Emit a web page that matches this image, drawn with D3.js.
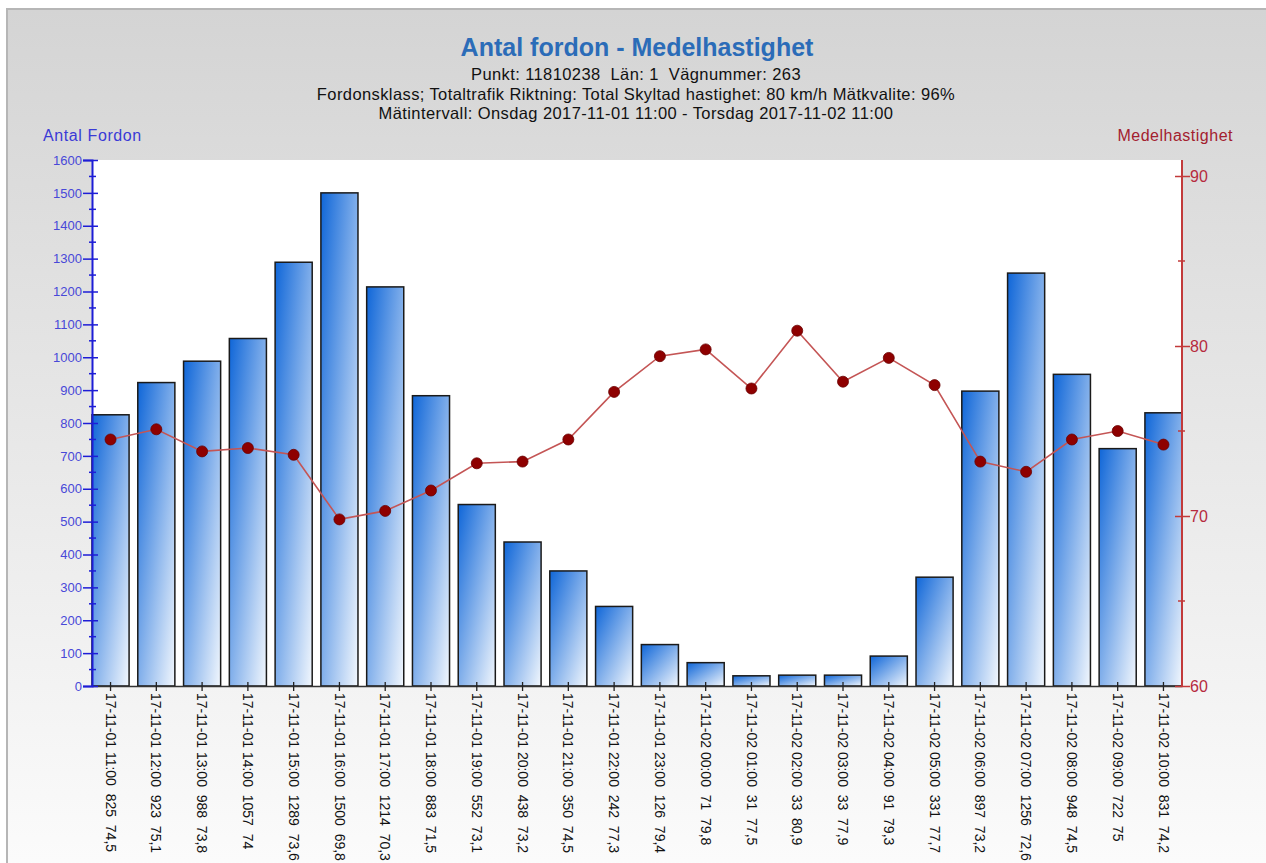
<!DOCTYPE html>
<html>
<head>
<meta charset="utf-8">
<script src="https://d3js.org/d3.v7.min.js"></script>
<style>
  body { margin: 0; background: #fff; overflow: hidden; }
  svg { display: block; font-family: "Liberation Sans", Arial, sans-serif; }
</style>
</head>
<body>
<script>
// --- data ---
var hours = ["17-11-01 11:00","17-11-01 12:00","17-11-01 13:00","17-11-01 14:00","17-11-01 15:00",
  "17-11-01 16:00","17-11-01 17:00","17-11-01 18:00","17-11-01 19:00","17-11-01 20:00",
  "17-11-01 21:00","17-11-01 22:00","17-11-01 23:00","17-11-02 00:00","17-11-02 01:00",
  "17-11-02 02:00","17-11-02 03:00","17-11-02 04:00","17-11-02 05:00","17-11-02 06:00",
  "17-11-02 07:00","17-11-02 08:00","17-11-02 09:00","17-11-02 10:00"];
var antal = [825, 923, 988, 1057, 1289, 1500, 1214, 883, 552, 438, 350, 242, 126, 71, 31, 33, 33, 91, 331, 897, 1256, 948, 722, 831];
var hastighet = [74.5, 75.1, 73.8, 74, 73.6, 69.8, 70.3, 71.5, 73.1, 73.2, 74.5, 77.3, 79.4, 79.8, 77.5, 80.9, 77.9, 79.3, 77.7, 73.2, 72.6, 74.5, 75, 74.2];
var leftTicks = d3.range(0, 1601, 100);
var leftMinor = d3.range(50, 1600, 100);
var rightTicks = [60, 70, 80, 90];
var rightMinor = [65, 75, 85];

var title = "Antal fordon - Medelhastighet";
var subtitles = [
  "Punkt: 11810238  Län: 1  Vägnummer: 263",
  "Fordonsklass; Totaltrafik Riktning: Total Skyltad hastighet: 80 km/h Mätkvalite: 96%",
  "Mätintervall: Onsdag 2017-11-01 11:00 - Torsdag 2017-11-02 11:00"
];

var W = 1266, H = 863;
var plot = {left: 92, right: 1182, top: 160, bottom: 686};

var svg = d3.select("body").append("svg").attr("width", W).attr("height", H);
var defs = svg.append("defs");

var bg = defs.append("linearGradient").attr("id", "bg").attr("x1", 0).attr("y1", 0).attr("x2", 0).attr("y2", 1);
bg.append("stop").attr("offset", "0%").attr("stop-color", "#d4d4d4");
bg.append("stop").attr("offset", "100%").attr("stop-color", "#fcfcfc");

var barGrad = defs.append("linearGradient").attr("id", "bar").attr("x1", 0).attr("y1", 0).attr("x2", 1).attr("y2", 1);
barGrad.append("stop").attr("offset", "0%").attr("stop-color", "#0f66d8");
barGrad.append("stop").attr("offset", "100%").attr("stop-color", "#f2f7fd");

// frame
svg.append("rect").attr("x", 7).attr("y", 9).attr("width", W + 10).attr("height", H + 10)
  .attr("fill", "url(#bg)").attr("stroke", "#b6b6b6").attr("stroke-width", 2);

// plot area
svg.append("rect").attr("x", plot.left).attr("y", plot.top)
  .attr("width", plot.right - plot.left).attr("height", plot.bottom - plot.top).attr("fill", "#fff");

// titles
svg.append("text").attr("x", 637).attr("y", 56).attr("text-anchor", "middle")
  .style("font-size", "25px").style("font-weight", "bold").attr("fill", "#2b6cb8").text(title);
svg.selectAll(".sub").data(subtitles).enter().append("text")
  .attr("x", 636).attr("y", function(d, i) { return 80 + i * 19.5; })
  .attr("text-anchor", "middle").style("font-size", "16.5px").style("letter-spacing", "0.4px")
  .style("white-space", "pre").attr("fill", "#111")
  .text(function(d) { return d; });

svg.append("text").attr("x", 43).attr("y", 141).style("font-size", "16px").style("letter-spacing", "0.6px")
  .attr("fill", "#3a3ad6").text("Antal Fordon");
svg.append("text").attr("x", 1233).attr("y", 141).attr("text-anchor", "end").style("font-size", "16px")
  .style("letter-spacing", "0.5px").attr("fill", "#a3202e").text("Medelhastighet");

// scales
var x = d3.scaleBand().domain(hours).range([plot.left, plot.right]).paddingInner(0.19).paddingOuter(0);
var yL = d3.scaleLinear().domain([0, 1600]).range([plot.bottom, plot.top]);
var yR = d3.scaleLinear().domain([60, 90]).range([plot.bottom, 176]);

// bars
svg.append("g").selectAll("rect").data(antal).enter().append("rect")
  .attr("x", function(d, i) { return x(hours[i]); })
  .attr("y", function(d) { return yL(d); })
  .attr("width", x.bandwidth())
  .attr("height", function(d) { return yL(0) - yL(d); })
  .attr("fill", "url(#bar)").attr("stroke", "#1a1a1a").attr("stroke-width", 1.5);

// x axis
var xAxis = svg.append("g").attr("transform", "translate(0," + plot.bottom + ")")
  .call(d3.axisBottom(x).tickSizeOuter(0).tickFormat(function(d, i) {
    return d + "  " + antal[i] + "  " + String(hastighet[i]).replace(".", ",");
  }));
xAxis.select(".domain").attr("stroke", "#333").attr("stroke-width", 1.5);
xAxis.selectAll(".tick line").attr("y1", -4).attr("y2", 5).attr("stroke", "#222").attr("stroke-width", 1.3);
xAxis.selectAll(".tick text")
  .attr("transform", "rotate(90)").attr("x", 7).attr("y", 0).attr("dy", "0.35em")
  .attr("text-anchor", "start").style("font-size", "14px").style("white-space", "pre")
  .style("font-family", "'Liberation Sans', Arial, sans-serif")
  .attr("fill", "#111");

// left axis
var lAxis = svg.append("g").attr("transform", "translate(" + plot.left + ",0)")
  .call(d3.axisLeft(yL).tickValues(leftTicks).tickFormat(d3.format("d")).tickSizeOuter(0).tickSize(9).tickPadding(1));
lAxis.select(".domain").attr("stroke", "#1d1dd6").attr("stroke-width", 2);
lAxis.selectAll(".tick line").attr("x1", 6).attr("stroke", "#1d1dd6").attr("stroke-width", 1.5);
lAxis.selectAll(".tick text").style("font-size", "13px").style("font-family", "'Liberation Sans', Arial, sans-serif")
  .attr("fill", "#4848d8");
lAxis.selectAll(".minor").data(leftMinor).enter().append("line").attr("class", "minor")
  .attr("x1", -3).attr("x2", 4).attr("y1", yL).attr("y2", yL)
  .attr("stroke", "#1d1dd6").attr("stroke-width", 1.5);

// right axis
var rAxis = svg.append("g").attr("transform", "translate(" + plot.right + ",0)")
  .call(d3.axisRight(yR).tickValues(rightTicks).tickSizeOuter(0).tickSize(8).tickPadding(0));
rAxis.select(".domain").remove();
rAxis.append("line").attr("x1", 0).attr("x2", 0).attr("y1", plot.top).attr("y2", plot.bottom)
  .attr("stroke", "#c23a3a").attr("stroke-width", 2);
rAxis.selectAll(".tick line").attr("x1", -7).attr("stroke", "#c23a3a").attr("stroke-width", 1.5);
rAxis.selectAll(".tick text").style("font-size", "16px").style("font-family", "'Liberation Sans', Arial, sans-serif")
  .attr("fill", "#b62a3e");
rAxis.selectAll(".minor").data(rightMinor).enter().append("line").attr("class", "minor")
  .attr("x1", -4).attr("x2", 3).attr("y1", yR).attr("y2", yR)
  .attr("stroke", "#c23a3a").attr("stroke-width", 1.5);

// speed line
var line = d3.line()
  .x(function(d, i) { return x(hours[i]) + x.bandwidth() / 2; })
  .y(function(d) { return yR(d); });
svg.append("path").datum(hastighet).attr("d", line)
  .attr("fill", "none").attr("stroke", "#c45555").attr("stroke-width", 1.6);
svg.append("g").selectAll("circle").data(hastighet).enter().append("circle")
  .attr("cx", function(d, i) { return x(hours[i]) + x.bandwidth() / 2; })
  .attr("cy", function(d) { return yR(d); })
  .attr("r", 5.5).attr("fill", "#8e0000").attr("stroke", "#6a0000").attr("stroke-width", 0.8);
</script>
</body>
</html>
